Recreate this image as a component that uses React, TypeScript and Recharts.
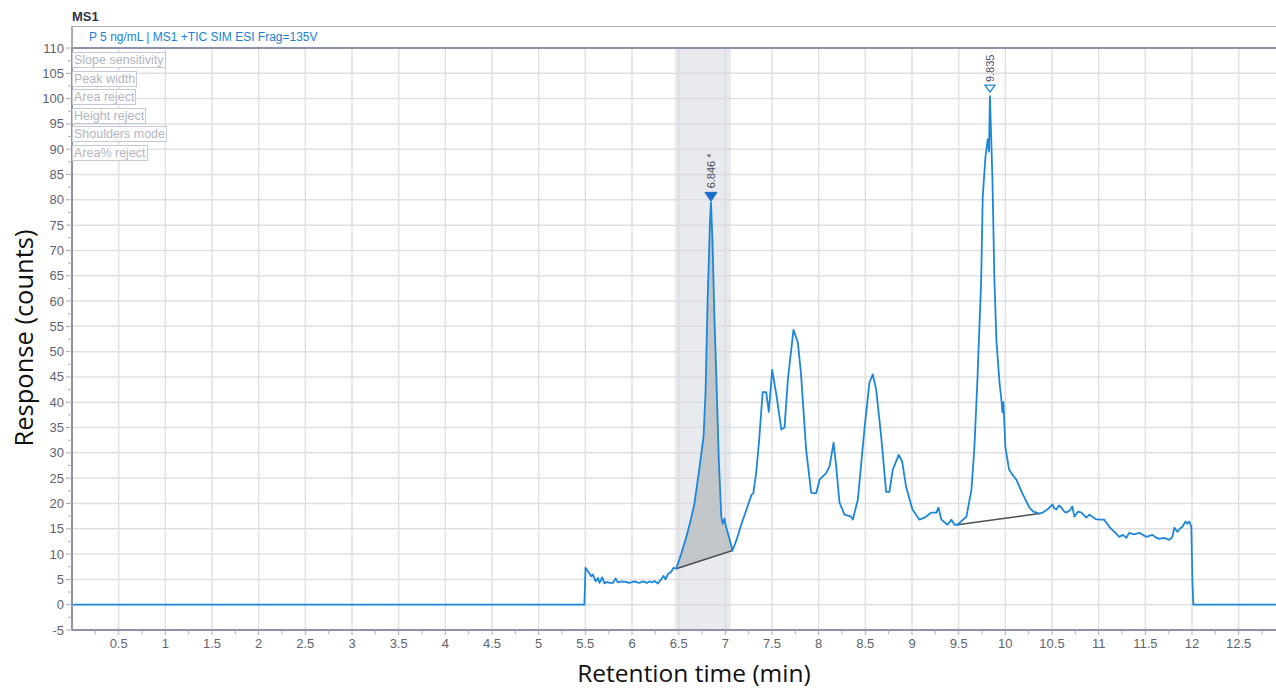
import React from 'react';
import {
  ComposedChart,
  Line,
  Area,
  XAxis,
  YAxis,
  CartesianGrid,
  ReferenceArea,
  ReferenceDot,
} from 'recharts';

// ---- Data ----
const retentionTimes = [
  0, 5.49, 5.502, 5.527, 5.563, 5.581, 5.61, 5.634, 5.652, 5.68, 5.706, 5.73, 5.76, 5.796, 5.824, 5.849,
  5.89, 5.938, 5.965, 5.992, 6.027, 6.055, 6.081, 6.11, 6.134, 6.16, 6.188, 6.215, 6.241, 6.277, 6.313,
  6.338, 6.359, 6.384, 6.42, 6.445, 6.474, 6.53, 6.584, 6.63, 6.67, 6.72, 6.767, 6.788, 6.81, 6.836,
  6.846, 6.862, 6.884, 6.902, 6.93, 6.956, 6.973, 6.991, 7.009, 7.045, 7.077, 7.12, 7.17, 7.227, 7.28,
  7.3, 7.33, 7.36, 7.4, 7.438, 7.466, 7.502, 7.55, 7.6, 7.634, 7.67, 7.73, 7.777, 7.81, 7.866, 7.92,
  7.973, 8.01, 8.08, 8.116, 8.16, 8.188, 8.223, 8.277, 8.348, 8.366, 8.42, 8.49, 8.544, 8.58, 8.616,
  8.67, 8.723, 8.758, 8.794, 8.858, 8.894, 8.937, 9.005, 9.08, 9.133, 9.209, 9.262, 9.283, 9.315, 9.38,
  9.423, 9.455, 9.487, 9.583, 9.637, 9.669, 9.701, 9.741, 9.758, 9.787, 9.812, 9.825, 9.835, 9.862,
  9.883, 9.905, 9.937, 9.958, 9.969, 9.98, 10.0, 10.04, 10.08, 10.118, 10.18, 10.22, 10.258, 10.3, 10.365,
  10.4, 10.45, 10.505, 10.525, 10.547, 10.575, 10.6, 10.63, 10.654, 10.69, 10.718, 10.74, 10.78, 10.815,
  10.868, 10.9, 10.932, 10.97, 11.007, 11.06, 11.114, 11.146, 11.18, 11.22, 11.26, 11.296, 11.328, 11.38,
  11.436, 11.51, 11.575, 11.61, 11.65, 11.7, 11.757, 11.789, 11.811, 11.843, 11.87, 11.897, 11.929,
  11.95, 11.972, 11.993, 12.004, 12.014, 12.9,
];

const responseCounts = [
  0, 0, 7.3, 6.6, 5.6, 6.0, 4.6, 5.3, 4.3, 5.4, 4.2, 4.5, 4.3, 4.3, 5.2, 4.4,
  4.6, 4.5, 4.3, 4.4, 4.6, 4.4, 4.3, 4.6, 4.5, 4.3, 4.6, 4.4, 4.7, 4.2, 5.0,
  5.7, 5.0, 6.0, 6.5, 7.3, 7.1, 10.2, 13.5, 16.8, 20.1, 26.7, 33.3, 42, 60, 76,
  79.5, 72, 56, 46, 28.7, 17.5, 16.0, 17.0, 15.3, 13.0, 10.7, 12.8, 15.8, 18.8, 21.7,
  22.0, 26, 32, 42, 42, 38.1, 46.4, 41.1, 34.6, 35, 44.5, 54.3, 51.8, 45.8, 30.6, 22.1,
  22, 24.7, 26, 27.3, 32, 27.3, 20.2, 17.8, 17.4, 16.8, 20.8, 34.6, 43.9, 45.5, 42.5,
  33.2, 22.3, 22.3, 26.7, 29.6, 28.3, 23.3, 18.8, 16.8, 17.2, 18.2, 18.2, 19.2, 16.8, 15.8,
  16.8, 15.8, 15.8, 17.4, 22.7, 31.2, 44.5, 64, 80.6, 88.5, 92, 89.5, 100.5, 84,
  64, 52, 44, 40.5, 38, 40, 31.2, 26.7, 25.6, 24.7, 22.1, 20.6, 19.2, 18.4, 18.0,
  18.2, 18.8, 19.8, 19.0, 18.8, 19.6, 19.2, 18.4, 18.2, 18.6, 19.4, 17.4, 18.4, 18.2,
  17.2, 17.8, 17.4, 16.9, 16.8, 16.8, 15.4, 14.8, 14.2, 13.4, 13.8, 13.2, 14.2, 13.9,
  14.2, 13.4, 13.8, 13.3, 13.0, 13.2, 12.8, 13.4, 15.2, 14.4, 15.0, 15.4, 16.4,
  16.0, 16.4, 15.4, 5, 0, 0,
];

const peakTimes = [6.846, 9.835];
const peakHeights = [79.5, 100.5];
const peakLabels = ['6.846 *', '9.835'];
const peakFilled = [true, false];

const baseline1Times = [6.474, 7.077];
const baseline1Values = [7.1, 10.7];
const baseline2Times = [9.487, 10.365];
const baseline2Values = [15.8, 18.0];

const integrationWindow = [6.46, 7.06];

const integrationParams = [
  'Slope sensitivity',
  'Peak width',
  'Area reject',
  'Height reject',
  'Shoulders mode',
  'Area% reject',
];

const xMajorTicks = [0.5, 1, 1.5, 2, 2.5, 3, 3.5, 4, 4.5, 5, 5.5, 6, 6.5, 7, 7.5, 8, 8.5, 9, 9.5, 10, 10.5, 11, 11.5, 12, 12.5];
const xMinorTicks = [0.25, 0.75, 1.25, 1.75, 2.25, 2.75, 3.25, 3.75, 4.25, 4.75, 5.25, 5.75, 6.25, 6.75, 7.25, 7.75, 8.25, 8.75, 9.25, 9.75, 10.25, 10.75, 11.25, 11.75, 12.25, 12.75];
const yMajorTicks = [-5, 0, 5, 10, 15, 20, 25, 30, 35, 40, 45, 50, 55, 60, 65, 70, 75, 80, 85, 90, 95, 100, 105, 110];
const yMinorTicks = [-2.5, 2.5, 7.5, 12.5, 17.5, 22.5, 27.5, 32.5, 37.5, 42.5, 47.5, 52.5, 57.5, 62.5, 67.5, 72.5, 77.5, 82.5, 87.5, 92.5, 97.5, 102.5, 107.5];

const xAllTicks = [...xMajorTicks, ...xMinorTicks].sort((a, b) => a - b);
const yAllTicks = [...yMajorTicks, ...yMinorTicks].sort((a, b) => a - b);

// ---- build chart rows ----
const rows = retentionTimes.map((t, i) => {
  const v = responseCounts[i];
  const row: any = { t, v };
  const [a0, a1] = baseline1Times;
  const [b0, b1] = baseline1Values;
  if (t >= a0 - 1e-9 && t <= a1 + 1e-9) {
    const base = b0 + ((b1 - b0) * (t - a0)) / (a1 - a0);
    row.area = [base, v];
  }
  if (t === baseline1Times[0]) row.base1 = baseline1Values[0];
  if (t === baseline1Times[1]) row.base1 = baseline1Values[1];
  if (t === baseline2Times[0]) row.base2 = baseline2Values[0];
  if (t === baseline2Times[1]) row.base2 = baseline2Values[1];
  return row;
});

const TICK_FONT = '"Liberation Sans", Arial, sans-serif';
const TITLE_FONT = '"Open Sans", "Noto Sans", sans-serif';
const AXIS_COLOR = '#8e92a8';
const TRACE_COLOR = '#1c87da';

const XTick = (props: any) => {
  const { x, y, payload } = props;
  const val = payload.value;
  const major = xMajorTicks.includes(val);
  return (
    <g>
      <line x1={x} x2={x} y1={y} y2={y + (major ? 5 : 4)} stroke="#a6aabb" strokeWidth={1} />
      {major && (
        <text x={x} y={y + 18} textAnchor="middle" fill="#5f6370" fontSize={13} fontFamily={TICK_FONT}>
          {val}
        </text>
      )}
    </g>
  );
};

const YTick = (props: any) => {
  const { x, y, payload } = props;
  const val = payload.value;
  const major = yMajorTicks.includes(val);
  return (
    <g>
      <line x1={x} x2={x - (major ? 6 : 4)} y1={y} y2={y} stroke="#a6aabb" strokeWidth={1} />
      {major && (
        <text x={x - 8} y={y + 4.5} textAnchor="end" fill="#5f6370" fontSize={13} fontFamily={TICK_FONT}>
          {val}
        </text>
      )}
    </g>
  );
};

const makePeakShape = (i: number) => (props: any) => {
  const { cx, cy } = props;
  const filled = peakFilled[i];
  return (
    <g>
      {filled ? (
        <polygon
          points={`${cx - 6},${cy - 10} ${cx + 6},${cy - 10} ${cx},${cy - 1}`}
          fill="#1a6fc8"
          stroke="#1a6fc8"
          strokeWidth={1}
        />
      ) : (
        <polygon
          points={`${cx - 5},${cy - 11} ${cx + 5},${cy - 11} ${cx},${cy - 4}`}
          fill="#ffffff"
          stroke={TRACE_COLOR}
          strokeWidth={1.3}
        />
      )}
      <text
        x={cx + 4}
        y={cy - 14}
        transform={`rotate(-90, ${cx + 4}, ${cy - 14})`}
        textAnchor="start"
        fill="#4a4e5a"
        fontSize={11}
        fontFamily={TICK_FONT}
      >
        {peakLabels[i]}
      </text>
    </g>
  );
};

export default function App() {
  return (
    <div style={{ position: 'absolute', left: 0, top: 0, width: 1276, height: 688, background: '#fff', overflow: 'hidden' }}>
      <ComposedChart width={1276} height={688} data={rows} margin={{ top: 48, right: 0, bottom: 0, left: 0 }}>
        <CartesianGrid
          verticalValues={xMajorTicks}
          horizontalValues={yMajorTicks}
          stroke="#dfe0e3"
          strokeWidth={1.5}
        />
        <ReferenceArea
          x1={integrationWindow[0]}
          x2={integrationWindow[1]}
          y1={-5}
          y2={110}
          fill="#d6d8de"
          fillOpacity={0.55}
          stroke="none"
          ifOverflow="hidden"
        />
        <XAxis
          dataKey="t"
          type="number"
          domain={[0, 12.9]}
          ticks={xAllTicks}
          interval={0}
          tick={<XTick />}
          tickLine={false}
          tickSize={0}
          tickMargin={0}
          axisLine={{ stroke: AXIS_COLOR, strokeWidth: 2 }}
          height={58}
          allowDataOverflow
        />
        <YAxis
          type="number"
          domain={[-5, 110]}
          ticks={yAllTicks}
          interval={0}
          tick={<YTick />}
          tickLine={false}
          tickSize={0}
          tickMargin={0}
          axisLine={{ stroke: AXIS_COLOR, strokeWidth: 2 }}
          width={72}
          allowDataOverflow
        />
        <Area
          dataKey="area"
          type="linear"
          stroke="none"
          fill="#c3c6c9"
          fillOpacity={1}
          isAnimationActive={false}
          connectNulls={false}
          dot={false}
          activeDot={false}
        />
        <Line
          dataKey="base1"
          type="linear"
          stroke="#4a4d55"
          strokeWidth={1.5}
          dot={false}
          activeDot={false}
          connectNulls
          isAnimationActive={false}
        />
        <Line
          dataKey="base2"
          type="linear"
          stroke="#4a4d55"
          strokeWidth={1.5}
          dot={false}
          activeDot={false}
          connectNulls
          isAnimationActive={false}
        />
        <Line
          dataKey="v"
          type="linear"
          stroke={TRACE_COLOR}
          strokeWidth={1.8}
          strokeLinejoin="round"
          dot={false}
          activeDot={false}
          isAnimationActive={false}
        />
        {peakTimes.map((t, i) => (
          <ReferenceDot key={i} x={t} y={peakHeights[i]} r={1} shape={makePeakShape(i)} ifOverflow="visible" />
        ))}
      </ComposedChart>

      {/* header */}
      <div
        style={{
          position: 'absolute',
          left: 72,
          top: 9,
          fontFamily: TICK_FONT,
          fontWeight: 'bold',
          fontSize: 13,
          color: '#2e3444',
          lineHeight: '16px',
        }}
      >
        MS1
      </div>
      <div
        style={{
          position: 'absolute',
          left: 71,
          top: 26,
          width: 1210,
          height: 20,
          borderTop: '1.5px solid #a9adc0',
          borderLeft: '2px solid #a9adc0',
          borderBottom: '2px solid #8e92a8',
          background: '#fff',
          boxSizing: 'content-box',
        }}
      >
        <div
          style={{
            position: 'absolute',
            left: 16,
            top: 3,
            fontFamily: TICK_FONT,
            fontSize: 12,
            color: '#1b7fd4',
            lineHeight: '14px',
            whiteSpace: 'nowrap',
          }}
        >
          P 5 ng/mL | MS1 +TIC SIM ESI Frag=135V
        </div>
      </div>

      {/* integration parameter boxes */}
      {integrationParams.map((p, i) => (
        <div
          key={p}
          style={{
            position: 'absolute',
            left: 72,
            top: 52 + i * 18.5,
            height: 14,
            padding: '0 1px',
            border: '1.5px solid #c5c8d5',
            background: '#fff',
            fontFamily: TICK_FONT,
            fontSize: 12.5,
            lineHeight: '14px',
            color: '#b1b5c2',
            whiteSpace: 'nowrap',
          }}
        >
          {p}
        </div>
      ))}

      {/* axis titles */}
      <div
        style={{
          position: 'absolute',
          left: 0,
          top: 659,
          width: 1388,
          textAlign: 'center',
          fontFamily: TITLE_FONT,
          fontSize: 24.5,
          color: '#111',
          lineHeight: '28px',
          whiteSpace: 'nowrap',
        }}
      >
        Retention time (min)
      </div>
      <div
        style={{
          position: 'absolute',
          left: 23,
          top: 338,
          transform: 'translate(-50%, -50%) rotate(-90deg)',
          fontFamily: TITLE_FONT,
          fontSize: 25.5,
          color: '#111',
          lineHeight: '28px',
          whiteSpace: 'nowrap',
        }}
      >
        Response (counts)
      </div>
    </div>
  );
}
